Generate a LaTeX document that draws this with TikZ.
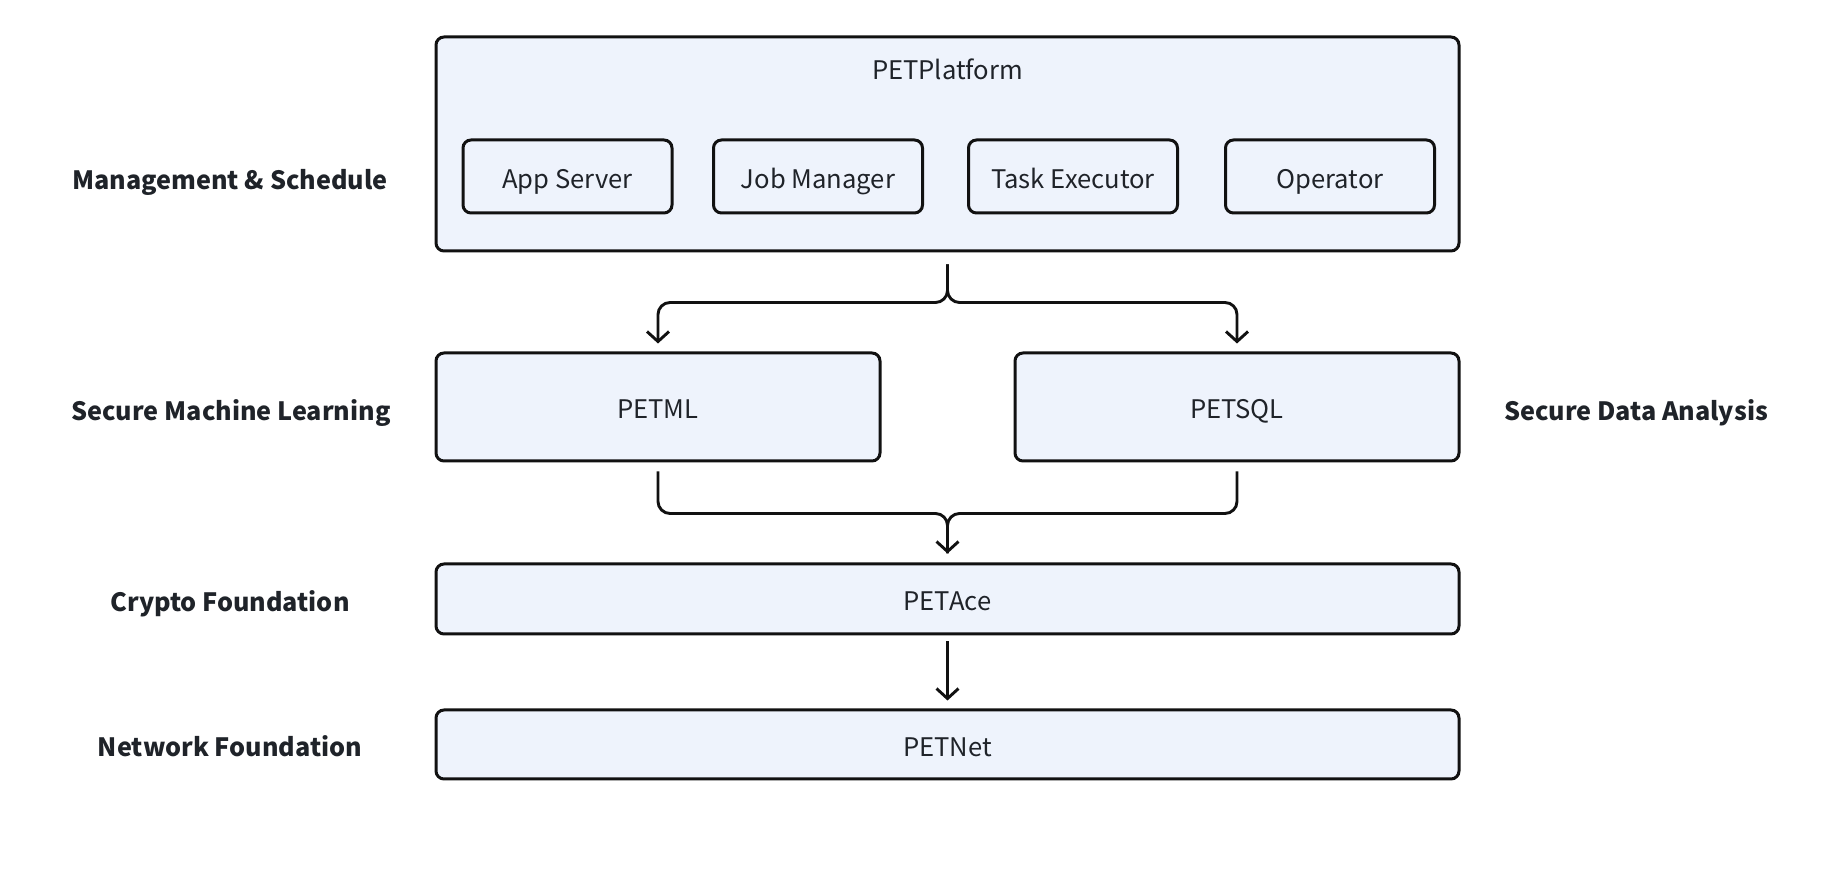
\documentclass[tikz,border=0pt]{standalone}
\usepackage{fontspec}
\setmainfont{Noto Sans CJK SC}
\usetikzlibrary{arrows.meta,calc}
\definecolor{boxfill}{HTML}{EEF3FC}
\definecolor{txt}{HTML}{1F2329}
\definecolor{edge}{HTML}{111111}
\tikzset{
  box/.style={draw=edge, fill=boxfill, line width=1.5pt, rounded corners=4pt, inner sep=0pt, text=txt, text height=12.4pt, text depth=0.8pt, font=\fontsize{12.8}{15}\selectfont},
  layer/.style={text=txt, text height=12.4pt, text depth=0.8pt, font=\bfseries\fontsize{12.6}{15}\selectfont},
  conn/.style={draw=edge, line width=1.45pt, rounded corners=6pt},
  tip/.style={-{Straight Barb[length=5pt,width=11pt,line width=1.45pt]}}
}
\begin{document}
\begin{tikzpicture}[x=0.5pt,y=-0.5pt]
\useasboundingbox (0,0) rectangle (1832,870);
% boxes
\node[box, minimum width=511.5pt, minimum height=107pt] (plat) at (947.5,144) {};
\node[box, draw=none, fill=none] (plattitle) at (947.5,68) {PETPlatform};
\node[box, minimum width=104.5pt, minimum height=36.5pt] (app) at (567.5,176.5) {App Server};
\node[box, minimum width=104.5pt, minimum height=36.5pt] (job) at (818,176.5) {Job Manager};
\node[box, minimum width=104.5pt, minimum height=36.5pt] (task) at (1073,176.5) {Task Executor};
\node[box, minimum width=104.5pt, minimum height=36.5pt] (oper) at (1330,176.5) {Operator};
\node[box, minimum width=222pt, minimum height=54pt] (ml) at (658,407) {PETML};
\node[box, minimum width=222pt, minimum height=54pt] (sql) at (1237,407) {PETSQL};
\node[box, minimum width=511.5pt, minimum height=35pt] (ace) at (947.5,599) {PETAce};
\node[box, minimum width=511.5pt, minimum height=34.5pt] (net) at (947.5,744.5) {PETNet};
% layer labels
\node[layer] (l1) at (230,178) {Management \& Schedule};
\node[layer] (l2) at (231,409) {Secure Machine Learning};
\node[layer] (l3) at (1636,409) {Secure Data Analysis};
\node[layer] (l4) at (230,600) {Crypto Foundation};
\node[layer] (l5) at (230,745) {Network Foundation};
% connectors
\draw[conn,tip] ($(plat.south)+(0,12)$) -- ++(0,38) -| ($(ml.north)+(0,-8)$);
\draw[conn,tip] ($(plat.south)+(0,12)$) -- ++(0,38) -| ($(sql.north)+(0,-8)$);
\draw[conn,tip] ($(ml.south)+(0,9)$) -- ++(0,42) -| ($(ace.north)+(0,-9)$);
\draw[conn] ($(sql.south)+(0,9)$) -- ++(0,42) -| ($(ace.north)+(0,-9)$);
\draw[conn,tip] ($(ace.south)+(0,6)$) -- ($(net.north)+(0,-8)$);
\end{tikzpicture}
\end{document}
